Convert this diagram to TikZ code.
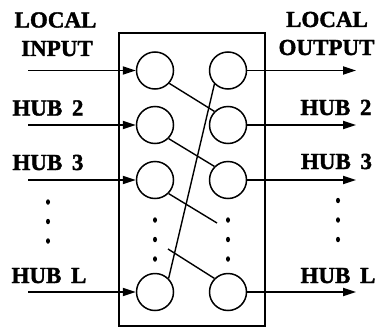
\documentclass[tikz,border=0pt]{standalone}
\usepackage{fontspec}
\setmainfont[BoldFeatures={FakeBold=1.6}]{Liberation Serif}
\usetikzlibrary{arrows.meta,shapes.geometric}
\begin{document}
\begin{tikzpicture}[x=1pt,y=-1pt,
  sw/.style={circle,draw,line width=1.5pt,minimum size=37pt,inner sep=0pt},
  lbl/.style={font=\fontsize{23}{23}\selectfont\bfseries,inner sep=0pt,anchor=base},
  link/.style={line width=1.4pt},
  arr/.style={line width=1.8pt,-{Triangle[length=13pt,width=8pt]}},
  dotm/.style={fill=black,ellipse,inner sep=0pt,minimum width=4pt,minimum height=5.5pt}]
\useasboundingbox (0,0) rectangle (379,329);
% box
\draw[line width=2pt] (119,33) rectangle (265,326);
% switches
\node[sw] (l1) at (155,70.5) {};
\node[sw] (l2) at (155,125) {};
\node[sw] (l3) at (155,180) {};
\node[sw] (lL) at (155,292) {};
\node[sw] (r1) at (228,70.5) {};
\node[sw] (r2) at (228,125) {};
\node[sw] (r3) at (228,180) {};
\node[sw] (rL) at (228,292) {};
% internal links
\coordinate (m3) at (217,223);
\coordinate (mL) at (168,249);
\draw[link] (l1.-42) -- (r2.135);
\draw[link] (l2.-45) -- (r3.135);
\draw[link] (l3.-45) -- (m3);
\draw[link] (mL) -- (rL.135);
\draw[link] (lL.45) -- (r1.225);
% inputs
\coordinate (i1) at (28,70.5);
\coordinate (i2) at (28,125);
\coordinate (i3) at (28,180);
\coordinate (iL) at (28,292);
\draw[arr] (i1) -- (l1.west);
\draw[arr] (i2) -- (l2.west);
\draw[arr] (i3) -- (l3.west);
\draw[arr] (iL) -- (lL.west);
% outputs
\coordinate (o1) at (356,70.5);
\coordinate (o2) at (356,125);
\coordinate (o3) at (356,180);
\coordinate (oL) at (356,292);
\draw[arr] (r1.east) -- (o1);
\draw[arr] (r2.east) -- (o2);
\draw[arr] (r3.east) -- (o3);
\draw[arr] (rL.east) -- (oL);
% labels
\node[lbl] (tl1) at (55.5,27.5) {LOCAL};
\node[lbl] (tl2) at (57,56) {INPUT};
\node[lbl] (tl3) at (48,115.5) {HUB\hspace{0.42em}2};
\node[lbl] (tl4) at (48,170) {HUB\hspace{0.42em}3};
\node[lbl] (tl5) at (49,283) {HUB\hspace{0.42em}L};
\node[lbl] (tr1) at (327,27) {LOCAL};
\node[lbl] (tr2) at (326.5,55) {OUTPUT};
\node[lbl] (tr3) at (336,115) {HUB\hspace{0.42em}2};
\node[lbl] (tr4) at (336.5,169) {HUB\hspace{0.42em}3};
\node[lbl] (tr5) at (338,283) {HUB\hspace{0.42em}L};
% dots
\foreach \y [count=\i] in {202,221.5,241} {
  \node[dotm] (dl\i) at (48,\y) {};
  \node[dotm] (dr\i) at (338,\y-1.5) {};
}
\foreach \y [count=\i] in {220,239.5,259} {
  \node[dotm] (dil\i) at (155,\y) {};
  \node[dotm] (dir\i) at (228,\y) {};
}
\end{tikzpicture}
\end{document}
